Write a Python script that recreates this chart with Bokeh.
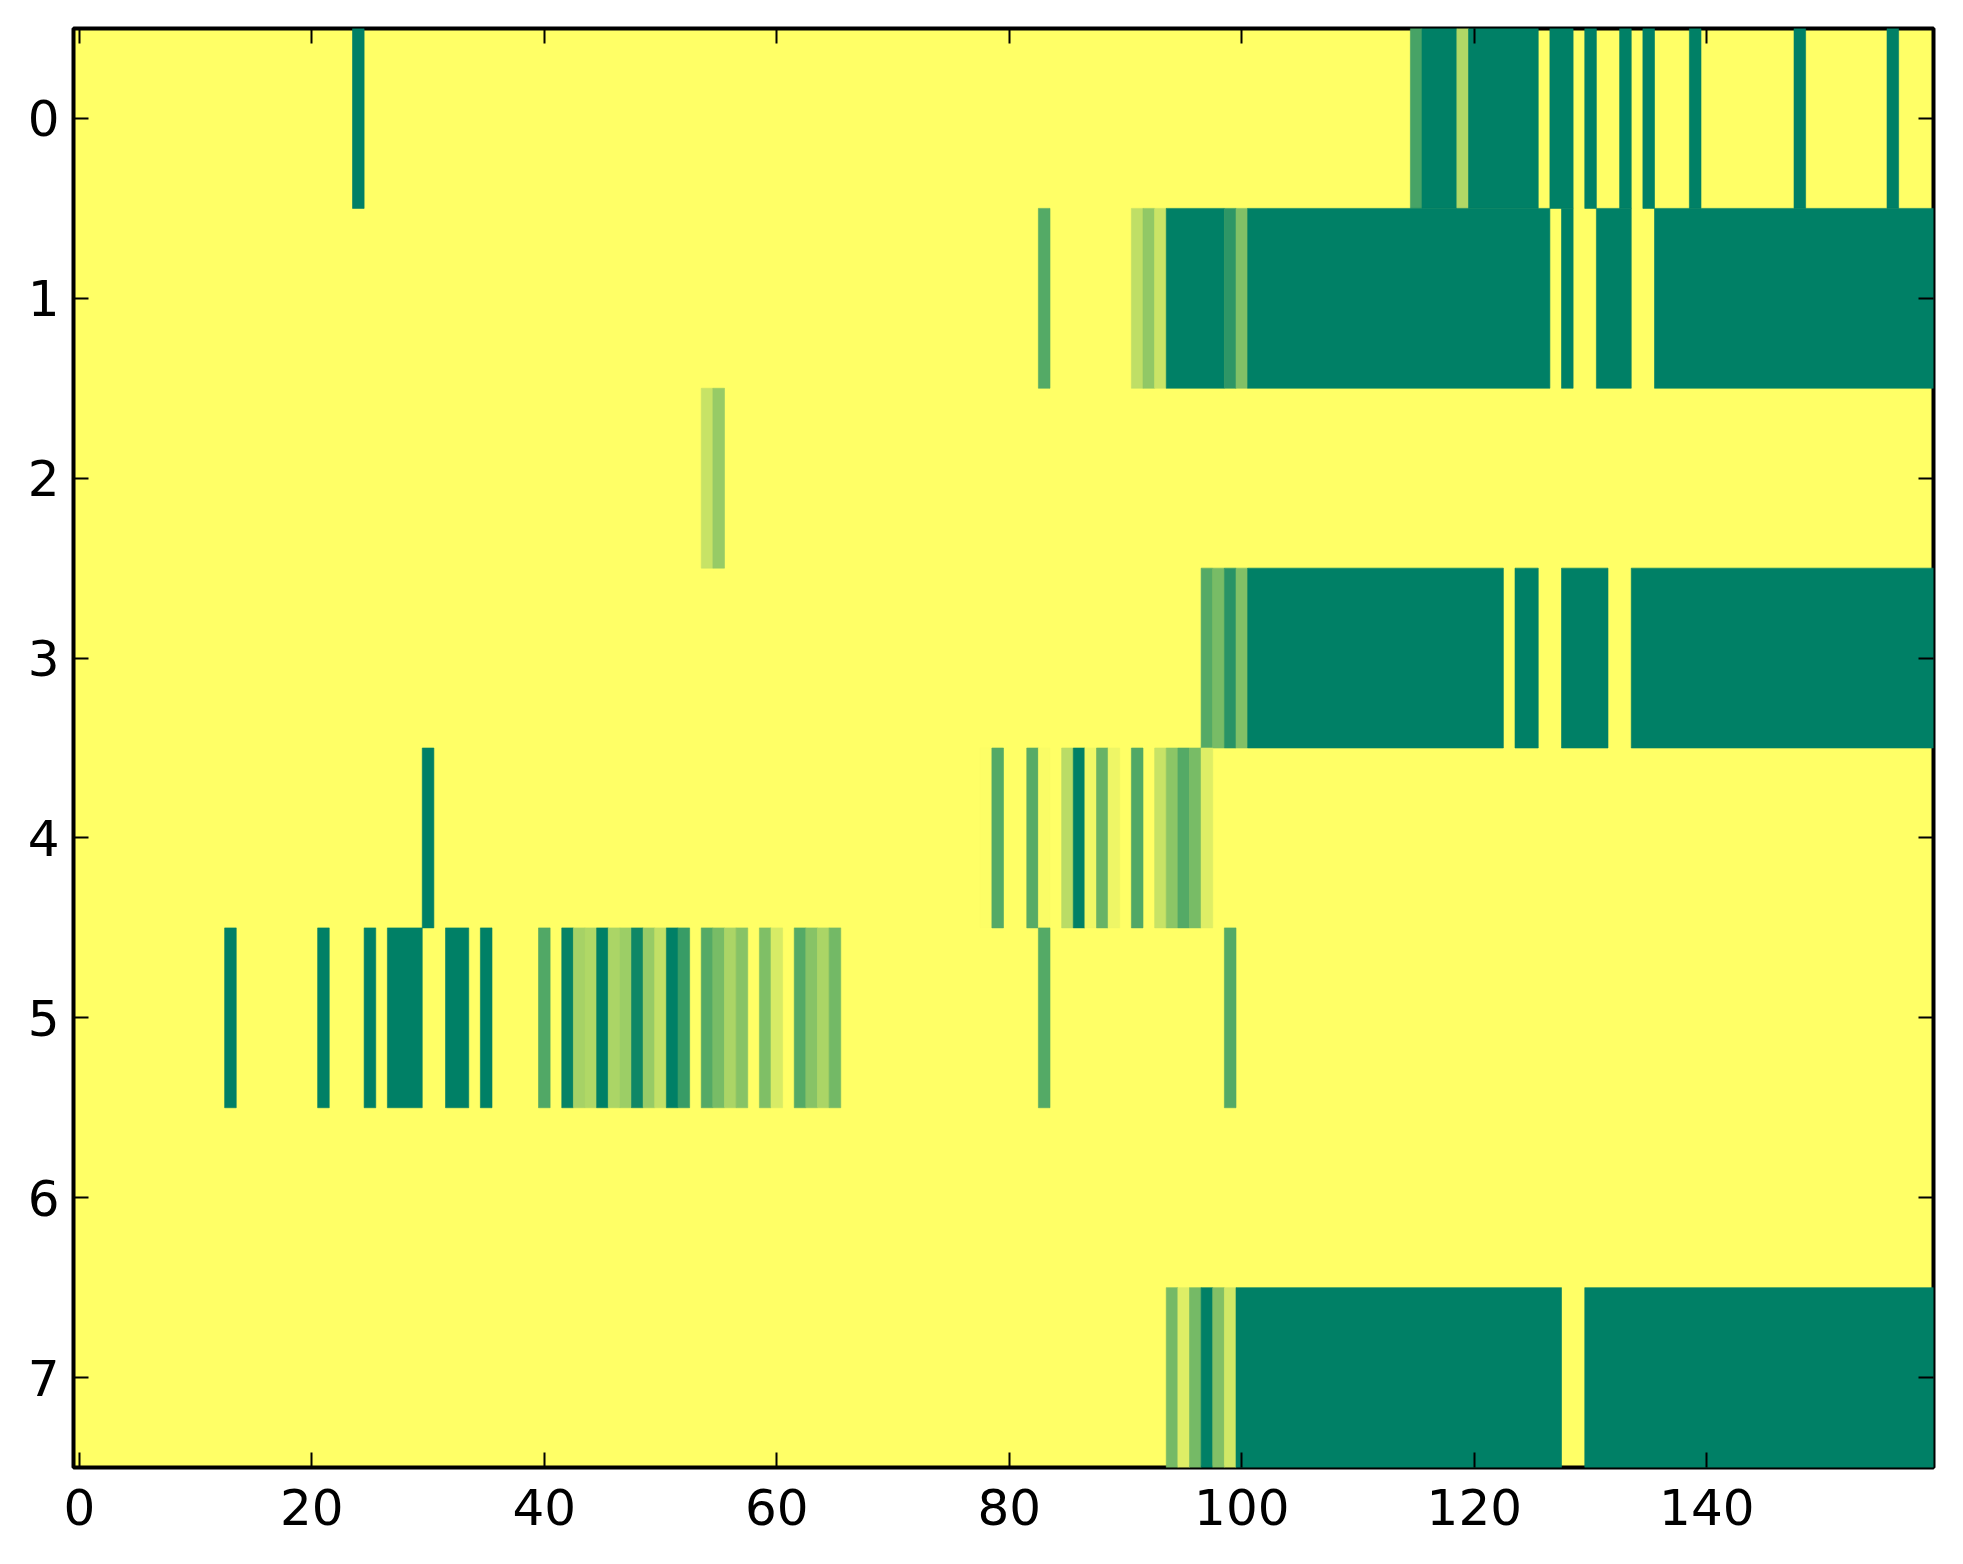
from bokeh.plotting import figure
from bokeh.models import LinearColorMapper, LinearAxis, Range1d, FixedTicker, ColumnDataSource, CustomLabelingPolicy
from bokeh.transform import transform
from bokeh.embed import file_html
from bokeh.resources import INLINE

x_ticks = [0, 20, 40, 60, 80, 100, 120, 140]
y_ticks = [0, 1, 2, 3, 4, 5, 6, 7]

# Sparse rows: (first column, last column, value); every other cell is 0
row0 = [(24, 24, 1.0), (115, 115, 0.72), (116, 118, 1.0), (119, 119, 0.31), (120, 125, 1.0),
        (127, 128, 1.0), (130, 130, 1.0), (133, 133, 1.0), (135, 135, 1.0), (139, 139, 1.0),
        (148, 148, 1.0), (156, 156, 1.0)]
row1 = [(83, 83, 0.67), (91, 91, 0.25), (92, 92, 0.43), (93, 93, 0.21), (94, 98, 1.0),
        (99, 99, 0.82), (100, 100, 0.49), (101, 126, 1.0), (128, 128, 1.0), (131, 133, 1.0),
        (136, 159, 1.0)]
row2 = [(54, 54, 0.22), (55, 55, 0.41)]
row3 = [(97, 97, 0.67), (98, 98, 0.53), (99, 99, 0.84), (100, 100, 0.49), (101, 122, 1.0),
        (124, 125, 1.0), (128, 131, 1.0), (134, 159, 1.0)]
row4 = [(30, 30, 1.0), (78, 78, 0.01), (79, 79, 0.67), (82, 82, 0.66), (83, 83, 0.02),
        (85, 85, 0.27), (86, 86, 1.0), (87, 87, 0.06), (88, 88, 0.59), (89, 89, 0.07),
        (91, 91, 0.68), (93, 93, 0.22), (94, 94, 0.45), (95, 95, 0.67), (96, 96, 0.53),
        (97, 97, 0.13)]
row5 = [(13, 13, 1.0), (21, 21, 1.0), (25, 25, 1.0), (27, 29, 1.0), (32, 33, 1.0), (35, 35, 1.0),
        (40, 40, 0.68), (42, 42, 0.97), (43, 43, 0.35), (44, 44, 0.31), (45, 45, 1.0),
        (46, 46, 0.33), (47, 47, 0.39), (48, 48, 0.94), (49, 49, 0.41), (50, 50, 0.24),
        (51, 51, 1.0), (52, 52, 0.78), (54, 54, 0.67), (55, 55, 0.53), (56, 56, 0.33),
        (57, 57, 0.47), (59, 59, 0.5), (60, 60, 0.16), (62, 62, 0.67), (63, 63, 0.47),
        (64, 64, 0.33), (65, 65, 0.55), (83, 83, 0.67), (99, 99, 0.67)]
row6 = []
row7 = [(94, 94, 0.54), (95, 95, 0.13), (96, 96, 0.54), (97, 97, 1.0), (98, 98, 0.49),
        (99, 99, 0.18), (100, 127, 1.0), (130, 159, 1.0)]
rows = [row0, row1, row2, row3, row4, row5, row6, row7]

left, right_, top_, bottom, vals = [], [], [], [], []
for i, row in enumerate(rows):
    for first, last, v in row:
        left.append(first - 0.5)
        right_.append(last + 0.5)
        top_.append(i - 0.5)
        bottom.append(i + 0.5)
        vals.append(v)
source = ColumnDataSource(dict(left=left, right=right_, top=top_, bottom=bottom, v=vals))

# matplotlib's summer_r colormap
palette = ["#%02x%02x%02x" % (round(255 * (1 - k / 255)), round(255 * (1 - k / 510)), 102)
           for k in range(256)]
mapper = LinearColorMapper(palette=palette, low=0, high=1)

p = figure(width=1947, height=1548, frame_width=1860, frame_height=1439,
           x_range=Range1d(-0.5, 159.5), y_range=Range1d(7.5, -0.5),
           output_backend="svg", toolbar_location=None,
           min_border_left=73, min_border_top=28, min_border_right=14, min_border_bottom=80)
p.quad(left="left", right="right", top="top", bottom="bottom", source=source,
       fill_color=transform("v", mapper), line_color=transform("v", mapper), line_width=0.6)

p.grid.visible = False
p.background_fill_color = "#ffff66"
p.outline_line_color = "black"
p.outline_line_width = 4

def style(ax, ticks, labels=True):
    ax.ticker = FixedTicker(ticks=ticks)
    ax.axis_line_color = None
    ax.major_tick_line_color = "black"
    ax.major_tick_line_width = 2
    ax.major_tick_in = 15
    ax.major_tick_out = 0
    ax.minor_tick_line_color = None
    ax.major_label_text_font = "DejaVu Sans"
    ax.major_label_text_font_size = "50px"
    ax.major_label_text_color = "black"
    if not labels:
        ax.major_label_standoff = 0
        ax.major_label_text_font_size = "10px"
        ax.major_label_policy = CustomLabelingPolicy(code="return [];")

style(p.xaxis[0], x_ticks)
p.xaxis[0].major_label_standoff = 21
style(p.yaxis[0], y_ticks)
p.yaxis[0].major_label_standoff = 14

top_axis = LinearAxis(); style(top_axis, x_ticks, labels=False)
right_axis = LinearAxis(); style(right_axis, y_ticks, labels=False)
p.add_layout(top_axis, "above")
p.add_layout(right_axis, "right")

open("out.html", "w").write(file_html(p, INLINE))
